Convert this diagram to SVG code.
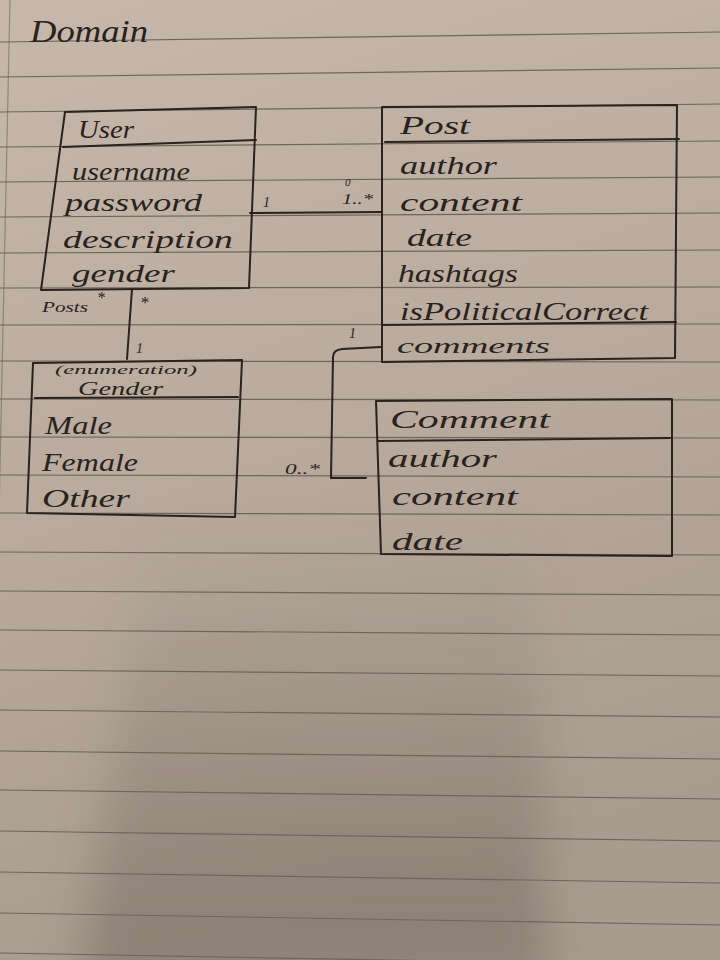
<svg xmlns="http://www.w3.org/2000/svg" width="720" height="960" viewBox="0 0 720 960">
  <defs>
    <linearGradient id="paper" x1="0" y1="0" x2="0.25" y2="1">
      <stop offset="0" stop-color="#c6b9ac"/>
      <stop offset="0.5" stop-color="#b9ab9e"/>
      <stop offset="1" stop-color="#a89b8f"/>
    </linearGradient>
    <linearGradient id="shadeV" x1="0" y1="0" x2="0" y2="1">
      <stop offset="0" stop-color="#6e6259" stop-opacity="0"/>
      <stop offset="1" stop-color="#6e6259" stop-opacity="0.5"/>
    </linearGradient>
    <filter id="blur" x="-30%" y="-30%" width="160%" height="160%">
      <feGaussianBlur stdDeviation="22"/>
    </filter>
    <style>
      .rule { stroke: #6f655d; stroke-width: 1.2; fill: none; }
      .ink { stroke: #2a221c; stroke-width: 2; fill: none; stroke-linejoin: round; stroke-linecap: round; }
      .hand { font-family: "Liberation Serif", "DejaVu Serif", serif; font-style: italic; fill: #2a221c; }
      .attr { font-size: 25px; }
      .title { font-size: 25px; }
      .small { font-size: 14px; }
    </style>
  </defs>

  <!-- paper -->
  <rect x="0" y="0" width="720" height="960" fill="url(#paper)"/>
  <polygon points="150,520 535,520 548,980 80,980" fill="url(#shadeV)" filter="url(#blur)"/>
  <g id="ruling">
    <line class="rule" x1="0" y1="42" x2="720" y2="32"/>
    <line class="rule" x1="0" y1="77" x2="720" y2="68"/>
    <line class="rule" x1="0" y1="112" x2="720" y2="104"/>
    <line class="rule" x1="0" y1="147" x2="720" y2="141"/>
    <line class="rule" x1="0" y1="182" x2="720" y2="177"/>
    <line class="rule" x1="0" y1="217" x2="720" y2="213"/>
    <line class="rule" x1="0" y1="253" x2="720" y2="250"/>
    <line class="rule" x1="0" y1="288" x2="720" y2="287"/>
    <line class="rule" x1="0" y1="325" x2="720" y2="324"/>
    <line class="rule" x1="0" y1="361" x2="720" y2="362"/>
    <line class="rule" x1="0" y1="399" x2="720" y2="400"/>
    <line class="rule" x1="0" y1="437" x2="720" y2="438"/>
    <line class="rule" x1="0" y1="475" x2="720" y2="477"/>
    <line class="rule" x1="0" y1="513" x2="720" y2="515"/>
    <line class="rule" x1="0" y1="552" x2="720" y2="555"/>
    <line class="rule" x1="0" y1="591" x2="720" y2="595"/>
    <line class="rule" x1="0" y1="630" x2="720" y2="635"/>
    <line class="rule" x1="0" y1="670" x2="720" y2="676"/>
    <line class="rule" x1="0" y1="710" x2="720" y2="717"/>
    <line class="rule" x1="0" y1="751" x2="720" y2="759"/>
    <line class="rule" x1="0" y1="790" x2="720" y2="799"/>
    <line class="rule" x1="0" y1="831" x2="720" y2="841"/>
    <line class="rule" x1="0" y1="872" x2="720" y2="883"/>
    <line class="rule" x1="0" y1="913" x2="720" y2="925"/>
    <line class="rule" x1="0" y1="953" x2="720" y2="966"/>
    <line class="rule" x1="10" y1="0" x2="-2" y2="560" stroke-opacity="0.6"/>
  </g>

  <text class="hand" x="30" y="42" font-size="32" textLength="118" lengthAdjust="spacingAndGlyphs">Domain</text>

  <g id="node-user">
    <path class="ink" d="M65,112 L256,107 L249,288 L41,290 Z"/>
    <path class="ink" d="M63,147 L256,140"/>
    <text class="hand title" x="78" y="138" textLength="56" lengthAdjust="spacingAndGlyphs">User</text>
    <text class="hand attr" x="72" y="180" textLength="118" lengthAdjust="spacingAndGlyphs">username</text>
    <text class="hand attr" x="65" y="211" textLength="137" lengthAdjust="spacingAndGlyphs">password</text>
    <text class="hand attr" x="63" y="248" textLength="170" lengthAdjust="spacingAndGlyphs">description</text>
    <text class="hand attr" x="72" y="282" textLength="103" lengthAdjust="spacingAndGlyphs">gender</text>
  </g>

  <g id="node-post">
    <path class="ink" d="M382,107 L677,105 L675,358 L382,362 Z"/>
    <path class="ink" d="M385,142 L679,139"/>
    <path class="ink" d="M382,325 L676,322"/>
    <text class="hand title" x="400" y="134" textLength="70" lengthAdjust="spacingAndGlyphs">Post</text>
    <text class="hand attr" x="400" y="174" textLength="97" lengthAdjust="spacingAndGlyphs">author</text>
    <text class="hand attr" x="400" y="211" textLength="122" lengthAdjust="spacingAndGlyphs">content</text>
    <text class="hand attr" x="407" y="246" textLength="65" lengthAdjust="spacingAndGlyphs">date</text>
    <text class="hand attr" x="398" y="282" textLength="120" lengthAdjust="spacingAndGlyphs">hashtags</text>
    <text class="hand attr" x="400" y="320" textLength="248" lengthAdjust="spacingAndGlyphs">isPoliticalCorrect</text>
    <text class="hand" x="397" y="353" font-size="22" textLength="153" lengthAdjust="spacingAndGlyphs">comments</text>
  </g>

  <g id="node-gender">
    <path class="ink" d="M33,363 L242,360 L235,517 L27,513 Z"/>
    <path class="ink" d="M35,398 L238,397"/>
    <text class="hand" x="55" y="374" font-size="13" textLength="142" lengthAdjust="spacingAndGlyphs">(enumeration)</text>
    <text class="hand" x="78" y="395" font-size="18" textLength="85" lengthAdjust="spacingAndGlyphs">Gender</text>
    <text class="hand attr" x="45" y="434" textLength="67" lengthAdjust="spacingAndGlyphs">Male</text>
    <text class="hand attr" x="42" y="471" textLength="96" lengthAdjust="spacingAndGlyphs">Female</text>
    <text class="hand attr" x="42" y="507" textLength="88" lengthAdjust="spacingAndGlyphs">Other</text>
  </g>

  <g id="node-comment">
    <path class="ink" d="M376,401 L672,399 L672,556 L381,554 Z"/>
    <path class="ink" d="M378,441 L670,438"/>
    <text class="hand title" x="390" y="428" textLength="160" lengthAdjust="spacingAndGlyphs">Comment</text>
    <text class="hand attr" x="388" y="467" textLength="109" lengthAdjust="spacingAndGlyphs">author</text>
    <text class="hand attr" x="392" y="505" textLength="126" lengthAdjust="spacingAndGlyphs">content</text>
    <text class="hand attr" x="392" y="550" textLength="71" lengthAdjust="spacingAndGlyphs">date</text>
  </g>

  <g id="connectors">
    <path class="ink" d="M250,213 L382,212"/>
    <path class="ink" d="M132,289 L127,359"/>
    <path class="ink" d="M381,347 L342,349 Q333,350 333,357 L331,478 L366,478"/>
    <text class="hand small" x="263" y="207">1</text>
    <text class="hand" x="345" y="186" font-size="11">0</text>
    <text class="hand small" x="342" y="204" textLength="31" lengthAdjust="spacingAndGlyphs">1..*</text>
    <text class="hand" x="97" y="303" font-size="16">*</text>
    <text class="hand" x="140" y="308" font-size="17">*</text>
    <text class="hand" x="42" y="312" font-size="15" textLength="46" lengthAdjust="spacingAndGlyphs">Posts</text>
    <text class="hand small" x="136" y="353">1</text>
    <text class="hand small" x="349" y="338">1</text>
    <text class="hand small" x="285" y="474" textLength="35" lengthAdjust="spacingAndGlyphs">0..*</text>
  </g>
</svg>
